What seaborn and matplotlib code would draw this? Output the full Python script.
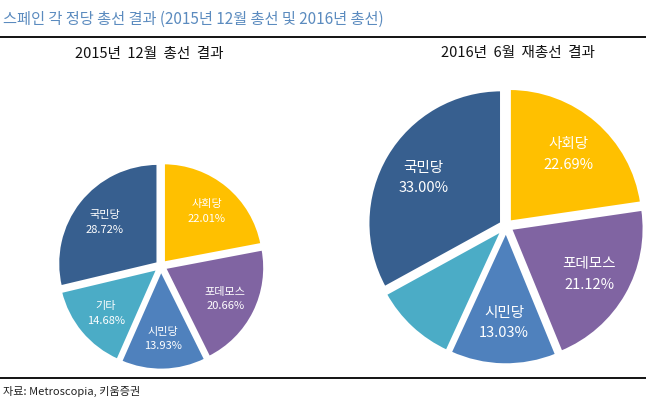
import matplotlib
matplotlib.use("Agg")
import matplotlib.pyplot as plt
import seaborn as sns

sns.set_theme(style="white")
plt.rcParams['font.family'] = ['Noto Sans CJK KR', 'DejaVu Sans']

parties = ["사회당", "포데모스", "시민당", "기타", "국민당"]
share_2015 = [22.01, 20.66, 13.93, 14.68, 28.72]
share_2016 = [22.69, 21.12, 13.03, 10.16, 33.00]
show_label_2016 = [True, True, True, False, True]
colors = sns.color_palette(["#FFC000", "#8064A2", "#4F81BD", "#4BACC6", "#375F8F"])

title = "스페인 각 정당 총선 결과 (2015년 12월 총선 및 2016년 총선)"
sub_left = "2015년  12월  총선  결과"
sub_right = "2016년  6월  재총선  결과"
source = "자료: Metroscopia, 키움증권"

W, H = 646, 402
fig = plt.figure(figsize=(W / 100, H / 100), dpi=100)
fig.patch.set_facecolor("white")


def px_axes(cx, cy, half):
    return fig.add_axes([(cx - half) / W, (H - cy - half) / H, 2 * half / W, 2 * half / H])


def draw(ax, values, labels_on, fs):
    labels = []
    for name, v, on in zip(parties, values, labels_on):
        labels.append(f"{name}\n{v:.2f}%" if on else "")
    wedges, texts = ax.pie(values, colors=colors, startangle=90, counterclock=False,
                           explode=[0.04] * len(values), labels=labels, labeldistance=0.68,
                           wedgeprops=dict(edgecolor="white", linewidth=2.0))
    for t in texts:
        t.set_ha("center")
        t.set_va("center")
        t.set_color("white")
        t.set_fontsize(fs)
        t.set_fontweight("light")
        t.set_linespacing(1.6)
    ax.set_xlim(-1.2, 1.2)
    ax.set_ylim(-1.2, 1.2)
    ax.set_aspect("equal")
    ax.axis("off")


ax1 = px_axes(161, 267, 120)
draw(ax1, share_2015, [True] * 5, 8)
ax2 = px_axes(506, 227, 160)
draw(ax2, share_2016, show_label_2016, 10.5)

fig.text(3 / W, 1 - 19 / H, title, fontsize=11, color="#5B8BBF", va="center", ha="left",
         fontweight="medium")
fig.add_artist(plt.Line2D([0, 1], [1 - 38 / H, 1 - 38 / H], color="black", lw=1.3))
fig.text(149 / W, 1 - 54 / H, sub_left, fontsize=10.5, color="#111111", ha="center", va="center")
fig.text(518 / W, 1 - 53 / H, sub_right, fontsize=10.5, color="#111111", ha="center", va="center")
fig.add_artist(plt.Line2D([0, 1], [1 - 379 / H, 1 - 379 / H], color="black", lw=1.3))
fig.text(3 / W, 1 - 391 / H, source, fontsize=8, color="#222222", ha="left", va="center")

fig.savefig("out.png", dpi=100, facecolor="white")
